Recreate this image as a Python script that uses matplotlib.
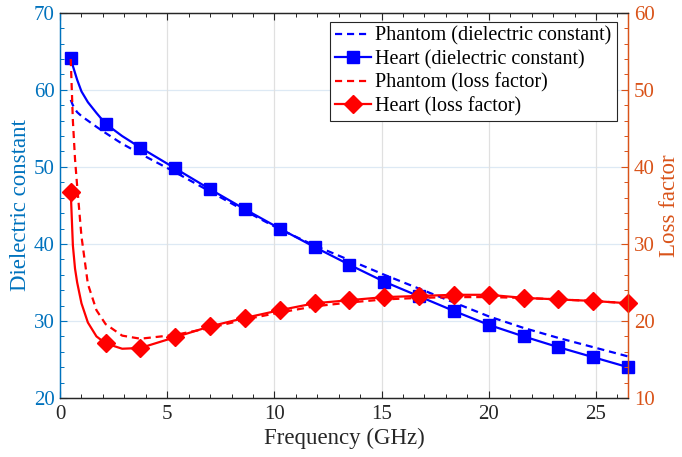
import matplotlib
matplotlib.use("Agg")
import matplotlib.pyplot as plt
from matplotlib.ticker import MultipleLocator

plt.rcParams['font.family'] = ['Liberation Serif', 'DejaVu Serif']
plt.rcParams['mathtext.fontset'] = 'stix'

# Frequency samples (GHz) used for the curves
freq = [0.5, 0.6, 0.7, 0.8, 1.0, 1.3, 1.7, 2.125, 2.9, 3.75, 5.375, 7.0,
        8.625, 10.25, 11.875, 13.5, 15.125, 16.75, 18.375, 20.0, 21.625,
        23.25, 24.875, 26.5]

# Heart tissue
heart_eps = [64.1, 63.1, 62.2, 61.3, 59.8, 58.4, 57.0, 55.6, 54.0, 52.5, 49.8,
             47.1, 44.5, 42.0, 39.6, 37.3, 35.1, 33.2, 31.3, 29.5, 28.0, 26.6,
             25.3, 24.0]
heart_loss = [36.8, 29.8, 26.8, 25.0, 22.3, 19.8, 18.0, 17.1, 16.4, 16.5, 17.9,
              19.3, 20.4, 21.4, 22.3, 22.7, 23.1, 23.25, 23.4, 23.4, 23.0, 22.8,
              22.6, 22.3]

# Phantom
phantom_eps = [58.7, 58.0, 57.5, 57.1, 56.6, 56.0, 55.2, 54.4, 53.0, 51.7, 49.3,
               46.8, 44.3, 41.9, 39.8, 37.9, 36.0, 34.2, 32.4, 30.6, 29.1, 27.8,
               26.6, 25.4]
phantom_loss = [54.0, 46.0, 41.0, 37.5, 31.0, 24.8, 21.4, 19.6, 18.1, 17.7, 18.2,
                19.1, 20.2, 21.1, 21.9, 22.4, 22.8, 23.0, 23.1, 23.1, 23.0, 22.8,
                22.6, 22.3]

# Heart markers are shown at the evenly spaced measurement frequencies
marker_idx = [0, 7] + list(range(9, len(freq)))

left_color = '#0072BD'
right_color = '#D95319'
axis_gray = '#262626'

fig = plt.figure(figsize=(6.82, 4.57), dpi=100)
ax = fig.add_axes([0.088, 0.129, 0.833, 0.843])
ax2 = ax.twinx()

l1, = ax.plot(freq, phantom_eps, '--', color='blue', lw=1.6, dashes=(3.2, 2.2))
l2, = ax.plot(freq, heart_eps, '-', color='blue', lw=1.6, marker='s',
              markersize=8, markevery=marker_idx)
l3, = ax2.plot(freq, phantom_loss, '--', color='red', lw=1.6, dashes=(3.2, 2.2))
l4, = ax2.plot(freq, heart_loss, '-', color='red', lw=1.6, marker='D',
               markersize=9, markevery=marker_idx)
for l in (l1, l2, l3, l4):
    l.set_clip_on(False)

ax.set_xlim(0, 26.5)
ax.set_ylim(20, 70)
ax2.set_ylim(10, 60)

ax.xaxis.set_major_locator(MultipleLocator(5))
ax.xaxis.set_minor_locator(MultipleLocator(1))
ax.yaxis.set_major_locator(MultipleLocator(10))
ax.yaxis.set_minor_locator(MultipleLocator(2))
ax2.yaxis.set_major_locator(MultipleLocator(10))
ax2.yaxis.set_minor_locator(MultipleLocator(2))

ax.grid(False)
for y in range(30, 70, 10):
    ax.axhline(y, color='#dde9f4', lw=0.9, zorder=0)
for x in range(5, 27, 5):
    ax.axvline(x, color='#e0e0e0', lw=0.9, zorder=0)

ax.tick_params(axis='x', which='both', direction='in', top=True, bottom=True,
               colors=axis_gray, labelsize=15, pad=5)
ax.tick_params(axis='x', which='major', length=5, width=0.8)
ax.tick_params(axis='x', which='minor', length=3, width=0.7)
ax.tick_params(axis='y', which='both', direction='in', left=True, right=False,
               colors=left_color, labelsize=15, pad=4)
ax.tick_params(axis='y', which='major', length=5, width=0.8)
ax.tick_params(axis='y', which='minor', length=3, width=0.7)
ax2.tick_params(axis='y', which='both', direction='in', right=True, left=False,
                colors=right_color, labelsize=15, pad=4)
ax2.tick_params(axis='y', which='major', length=5, width=0.8)
ax2.tick_params(axis='y', which='minor', length=3, width=0.7)

for a in (ax, ax2):
    a.spines['top'].set_color(axis_gray)
    a.spines['bottom'].set_color(axis_gray)
    a.spines['left'].set_color(left_color)
    a.spines['right'].set_color(right_color)
    for s in a.spines.values():
        s.set_linewidth(0.9)

ax.set_xlabel('Frequency (GHz)', fontsize=16.5, color=axis_gray, labelpad=3)
ax.set_ylabel('Dielectric constant', fontsize=16.5, color=left_color, labelpad=2)
ax2.set_ylabel('Loss factor', fontsize=16.5, color=right_color, labelpad=3,
               rotation=90)

leg = ax2.legend([l1, l2, l3, l4],
                 ['Phantom (dielectric constant)', 'Heart (dielectric constant)',
                  'Phantom (loss factor)', 'Heart (loss factor)'],
                 loc='upper right', bbox_to_anchor=(0.98, 0.977), fontsize=14.5,
                 frameon=True, fancybox=False, framealpha=1, edgecolor=axis_gray,
                 handlelength=1.8, handletextpad=0.2, labelspacing=0.2,
                 borderpad=0.25, borderaxespad=0.0)
leg.get_frame().set_linewidth(0.8)

fig.savefig('out.png', dpi=100)
